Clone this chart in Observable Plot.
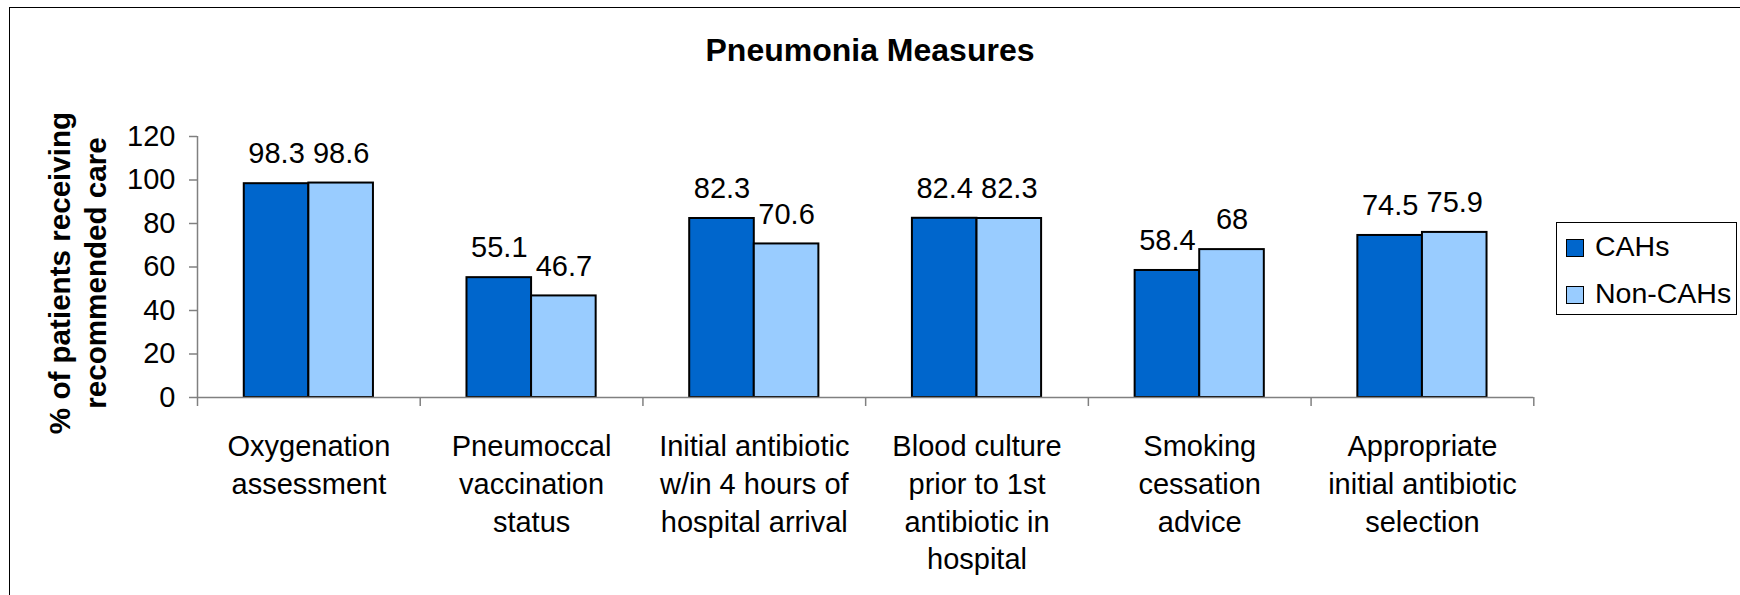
<!DOCTYPE html>
<html>
<head>
<meta charset="utf-8">
<script src="https://cdn.jsdelivr.net/npm/d3@7"></script>
<script src="https://cdn.jsdelivr.net/npm/@observablehq/plot@0.6"></script>
<style>
  html, body { margin: 0; padding: 0; background: #fff; overflow: hidden; }
  #page { position: relative; width: 1740px; height: 595px; overflow: hidden; background: #fff;
          font-family: "Liberation Sans", Arial, sans-serif; color: #000; }
  #frame { position: absolute; left: 9px; top: 7px; width: 1800px; height: 700px;
           border: 1px solid #000; box-sizing: border-box; pointer-events: none; z-index: 3; }
  #title { position: relative; height: 80px; box-sizing: border-box; padding-top: 32px;
           line-height: 36px; font-size: 32px; font-weight: bold; text-align: center; }
  #chart { position: relative; height: 515px; }
  #legend { position: absolute; left: 1556px; top: 222px; width: 181px; height: 93px;
            border: 1px solid #000; box-sizing: border-box; background: #fff; z-index: 2; }
  #legend .sw { position: absolute; left: 9px; width: 18px; height: 18px; box-sizing: border-box;
                border: 1.5px solid #000; }
  #legend .lb { position: absolute; left: 38px; font-size: 28.5px; line-height: 32px; white-space: nowrap; }
</style>
</head>
<body>
<div id="page">
  <div id="frame"></div>
  <div id="title"></div>
  <div id="chart"></div>
  <div id="legend"></div>
</div>
<script>
// ---- data ----
const chartTitle = "Pneumonia Measures";
const yTitle = "% of patients receiving\nrecommended care";
const categories = [
  "Oxygenation\nassessment",
  "Pneumoccal\nvaccination\nstatus",
  "Initial antibiotic\nw/in 4 hours of\nhospital arrival",
  "Blood culture\nprior to 1st\nantibiotic in\nhospital",
  "Smoking\ncessation\nadvice",
  "Appropriate\ninitial antibiotic\nselection"
];
const series = ["CAHs", "Non-CAHs"];
const cahValues = [98.3, 55.1, 82.3, 82.4, 58.4, 74.5];
const nonCahValues = [98.6, 46.7, 70.6, 82.3, 68, 75.9];
const yTicks = [0, 20, 40, 60, 80, 100, 120];
const seriesColors = ["#0066CC", "#99CCFF"];

// ---- table for the library ----
const valuesBySeries = [cahValues, nonCahValues];
const rows = categories.flatMap((c, i) =>
  series.map((s, j) => ({ i, j, category: c, series: s, value: valuesBySeries[j][i] }))
);

// layout fractions of each category step
const groupInset = 0.21;
const barFrac = 0.29;
const axisGray = "#808080";
const font = '"Liberation Sans", Arial, sans-serif';

document.getElementById("title").textContent = chartTitle;

const chart = Plot.plot({
  width: 1740,
  height: 515,
  marginTop: 56,
  marginBottom: 198,
  marginLeft: 197,
  marginRight: 206.7,
  x: { domain: [0, categories.length] },
  y: { domain: [0, 120] },
  color: { domain: series, range: seriesColors },
  style: { fontFamily: font, fontSize: "29px", color: "black", background: "transparent", overflow: "visible" },
  marks: [
    Plot.rect(rows, {
      x1: d => d.i + groupInset + d.j * barFrac,
      x2: d => d.i + groupInset + (d.j + 1) * barFrac,
      y1: 0,
      y2: "value",
      fill: "series",
      stroke: "black",
      strokeWidth: 2
    }),
    Plot.ruleY([0], { stroke: axisGray, strokeWidth: 1.5 }),
    Plot.ruleX([0], { stroke: axisGray, strokeWidth: 1.5 }),
    Plot.axisY({ ticks: yTicks, tickSize: 8, tickPadding: 14, stroke: axisGray, strokeWidth: 1.5,
                 fill: "black", fontSize: 29, label: null, tickFormat: d => String(d) }),
    Plot.axisX({ ticks: d3.range(0, categories.length + 1), tickSize: 9, tickFormat: () => "",
                 stroke: axisGray, strokeWidth: 1.5, label: null }),
    Plot.axisX({ ticks: categories.map((_, i) => i + 0.5), tickSize: 0, tickPadding: 32,
                 tickFormat: v => categories[Math.floor(v)], fontSize: 29, lineHeight: 1.3,
                 fill: "black", label: null }),
    Plot.text(rows, {
      x: d => d.i + groupInset + (d.j + 0.5) * barFrac,
      y: "value",
      text: d => String(d.value),
      dy: -29.5,
      fontSize: 29,
      fill: "black"
    }),
    Plot.text([yTitle], {
      frameAnchor: "left", textAnchor: "middle", lineAnchor: "middle",
      rotate: -90, dx: -120.75, dy: 6, text: d => d,
      fontWeight: "bold", fontSize: 29.6, lineHeight: 1.2, fill: "black"
    })
  ]
});
document.getElementById("chart").appendChild(chart);

// legend
const legend = document.getElementById("legend");
series.forEach((s, j) => {
  const sw = document.createElement("div");
  sw.className = "sw";
  sw.style.top = (16 + j * 46.7) + "px";
  sw.style.background = seriesColors[j];
  legend.appendChild(sw);
  const lb = document.createElement("div");
  lb.className = "lb";
  lb.style.top = (7 + j * 46.7) + "px";
  lb.textContent = s;
  legend.appendChild(lb);
});
</script>
</body>
</html>
